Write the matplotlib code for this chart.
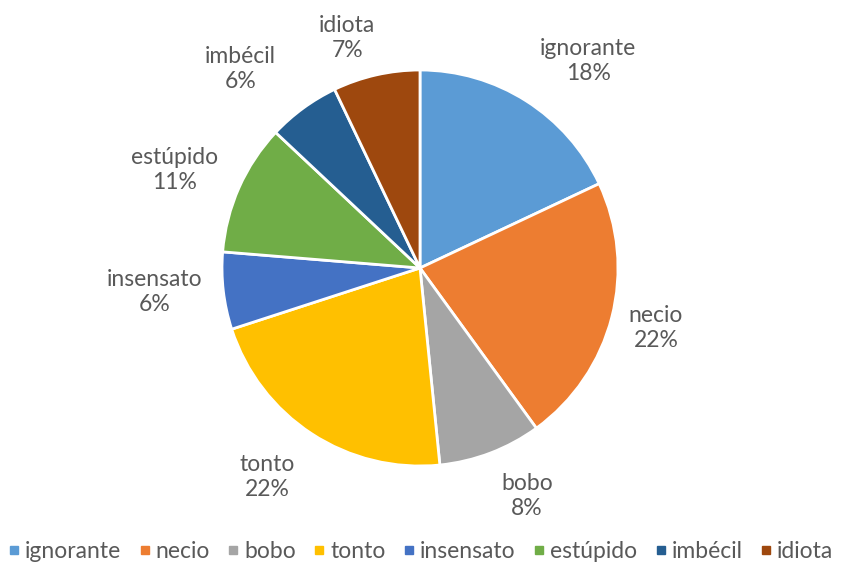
import numpy as np
import matplotlib
matplotlib.use("Agg")
import matplotlib.pyplot as plt
from matplotlib.lines import Line2D

categories = ["ignorante", "necio", "bobo", "tonto", "insensato", "estúpido", "imbécil", "idiota"]
values = [18, 22, 8.4, 21.6, 6.3, 10.7, 5.9, 7.1]
colors = ["#5B9BD5", "#ED7D31", "#A5A5A5", "#FFC000", "#4472C4", "#70AD47", "#255E91", "#9E480E"]

plt.rcParams['font.family'] = ['Lato', 'DejaVu Sans']
text_color = "#595959"

fig = plt.figure(figsize=(8.42, 5.63), dpi=100)
ax = fig.add_axes([0, 0, 1, 1])
cx, cy, R = 420, 268, 198

wedges, _ = ax.pie(values, colors=colors, startangle=90, counterclock=False,
                   radius=1.0, center=(0, 0), frame=True,
                   wedgeprops=dict(edgecolor='white', linewidth=2))
ax.set_xlim((0 - cx) / R, (842 - cx) / R)
ax.set_ylim((cy - 563) / R, cy / R)
ax.set_aspect('auto')
ax.axis('off')

total = sum(values)
# label placement (radial distance, angular offset in degrees) - styling only
label_dist = [1.347, 1.230, 1.272, 1.308, 1.344, 1.333, 1.355, 1.219]
label_off = [-6.7, 0.1, 4.2, -3.1, -1.5, 2.1, 5.9, 4.8]
for w, cat, v, d, o in zip(wedges, categories, values, label_dist, label_off):
    ang = np.deg2rad((w.theta1 + w.theta2) / 2 + o)
    x, y = d * np.cos(ang), d * np.sin(ang)
    ax.text(x, y, f"{cat}\n{v / total * 100:.0f}%", ha='center', va='center',
            fontsize=16.5, color=text_color, linespacing=1.25)

handles = [Line2D([], [], marker='s', linestyle='none', markersize=5.5,
                  markerfacecolor=c, markeredgecolor=c) for c in colors]
fig.legend(handles, categories, loc='lower center', bbox_to_anchor=(0.5, -0.035),
           ncol=len(categories), frameon=False, fontsize=16.5, labelcolor=text_color,
           handletextpad=0.25, columnspacing=0.8, handlelength=0.45)

fig.savefig("out.png", dpi=100, facecolor='white')
